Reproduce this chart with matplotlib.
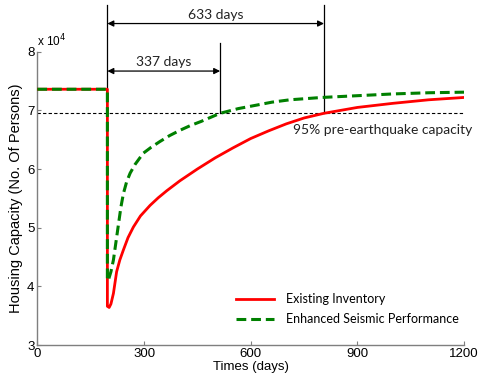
import matplotlib.pyplot as plt

# -----------------------------
# DATA (housing capacity, x 10^4 persons)
# -----------------------------

pre_level = 7.36
target_level = 6.95
event_day = 197

days_existing = [0, 197, 197, 202, 207, 214, 223, 232, 242, 255, 270, 290, 317, 340, 364, 401,
                 450, 500, 550, 600, 650, 700, 750, 806, 900, 1000, 1100, 1200]
cap_existing = [7.36, 7.36, 3.66, 3.64, 3.70, 3.88, 4.25, 4.45, 4.62, 4.83, 5.01, 5.20, 5.38, 5.51,
                5.63, 5.80, 6.00, 6.19, 6.36, 6.52, 6.65, 6.77, 6.87, 6.95, 7.05, 7.12, 7.18, 7.22]

days_enhanced = [0, 197, 197, 200, 207, 214, 221, 228, 235, 242, 251, 261, 275, 298, 320, 345,
                 372, 401, 430, 460, 514, 565, 617, 660, 710, 800, 900, 1000, 1100, 1200]
cap_enhanced = [7.36, 7.36, 4.10, 4.11, 4.25, 4.45, 4.75, 5.05, 5.35, 5.58, 5.78, 5.93, 6.08, 6.27,
                6.37, 6.47, 6.57, 6.66, 6.74, 6.81, 6.95, 7.03, 7.09, 7.14, 7.18, 7.22, 7.25, 7.28,
                7.30, 7.31]

recovery_enhanced_day = 514
recovery_existing_day = 806
labels_days = ["337 days", "633 days"]

x_ticks = [0, 300, 600, 900, 1200]
y_ticks = [3, 4, 5, 6, 7, 8]

# -----------------------------
# FIGURE
# -----------------------------

gray = "#7f7f7f"
humanist = ["Lato", "DejaVu Sans"]

fig = plt.figure(figsize=(4.82, 3.79), dpi=100)
ax = fig.add_axes([0.0774, 0.0897, 0.8856, 0.7739])

ax.plot(days_existing, cap_existing, color="#ff0000", lw=2.0, label="Existing Inventory",
        zorder=3, solid_joinstyle="round")
ax.plot(days_enhanced, cap_enhanced, color="#008000", lw=2.2, ls=(0, (3.2, 1.6)),
        label="Enhanced Seismic Performance", zorder=4)

# 95% line
ax.axhline(target_level, color="black", lw=0.8, ls=(0, (3, 2)), zorder=2)
ax.text(1223, 6.67, "95% pre-earthquake capacity", fontsize=10, family=humanist,
        ha="right", va="center", color="#222222", clip_on=False)

# vertical markers
ax.plot([event_day, event_day], [pre_level, 8.80], color="black", lw=0.9, clip_on=False, zorder=2)
ax.plot([recovery_enhanced_day, recovery_enhanced_day], [target_level, 8.15], color="black", lw=0.9,
        clip_on=False, zorder=2)
ax.plot([recovery_existing_day, recovery_existing_day], [target_level, 8.80], color="black", lw=0.9,
        clip_on=False, zorder=2)

arrow = dict(arrowstyle="<|-|>", color="black", lw=0.9, shrinkA=0, shrinkB=0, mutation_scale=9)
ax.annotate("", xy=(event_day, 8.48), xytext=(recovery_existing_day, 8.48),
            arrowprops=arrow, annotation_clip=False)
ax.annotate("", xy=(event_day, 7.67), xytext=(recovery_enhanced_day, 7.67),
            arrowprops=arrow, annotation_clip=False)
ax.text((event_day + recovery_existing_day) / 2, 8.63, labels_days[1], fontsize=10,
        family=humanist, ha="center", va="center", color="#222222")
ax.text((event_day + recovery_enhanced_day) / 2, 7.83, labels_days[0], fontsize=10,
        family=humanist, ha="center", va="center", color="#222222")

# axes styling
ax.set_xlim(0, 1200)
ax.set_ylim(3, 8)
ax.set_xticks(x_ticks)
ax.set_yticks(y_ticks)
for s in ["top", "right"]:
    ax.spines[s].set_visible(False)
for s in ["left", "bottom"]:
    ax.spines[s].set_color(gray)
    ax.spines[s].set_linewidth(1.0)
ax.tick_params(direction="in", length=3, color=gray, labelsize=9.5, pad=2)
for lab in ax.get_xticklabels() + ax.get_yticklabels():
    lab.set_family("Liberation Sans")

ax.text(0.0, 1.035, r"x 10$^4$", transform=ax.transAxes, fontsize=8.5,
        family="Liberation Sans", ha="left", va="center")

ax.set_xlabel("Times (days)", fontsize=9.5, family="Liberation Sans", labelpad=1)
ax.set_ylabel("Housing Capacity (No. Of Persons)", fontsize=10.5, family="Liberation Sans", labelpad=3)

ax.legend(loc="lower left", bbox_to_anchor=(0.44, 0.03), frameon=False,
          prop={"family": humanist, "size": 9}, handlelength=3.0, handletextpad=1.0,
          labelspacing=0.6)

fig.savefig("out.png", dpi=100)
